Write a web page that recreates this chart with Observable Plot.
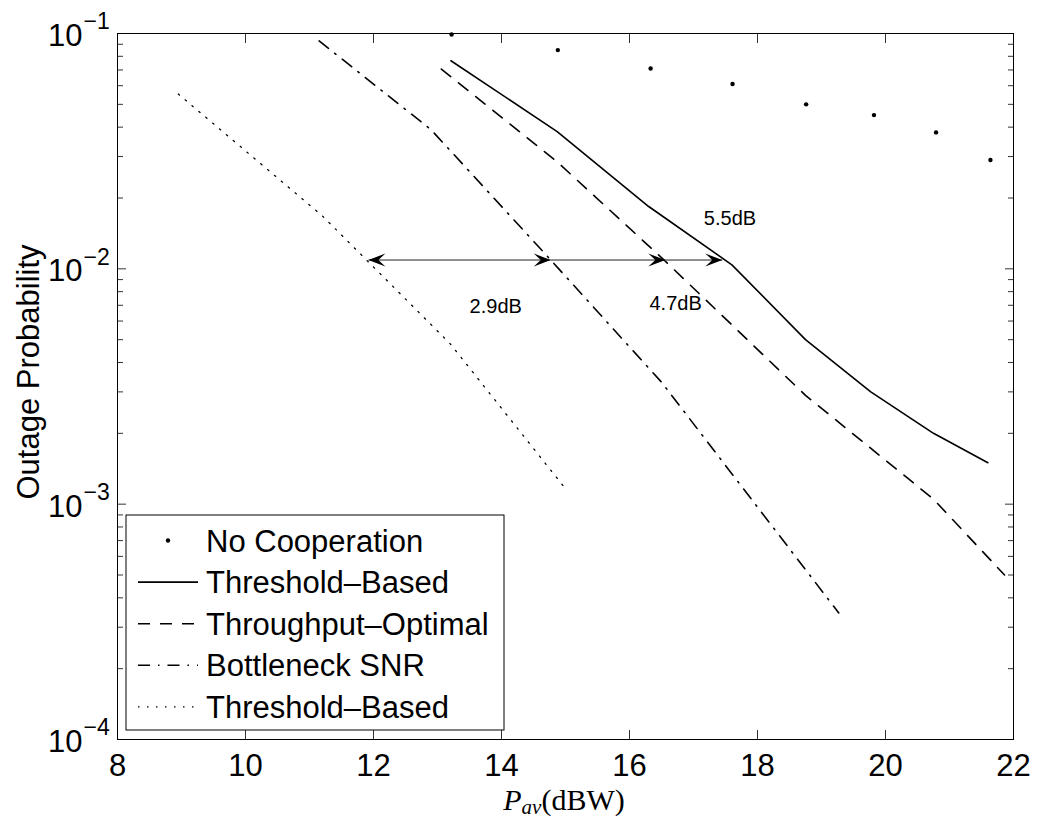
<!DOCTYPE html>
<html>
<head>
<meta charset="utf-8">
<script src="https://cdn.jsdelivr.net/npm/d3@7"></script>
<script src="https://cdn.jsdelivr.net/npm/@observablehq/plot@0.6"></script>
<style>
  html, body { margin: 0; padding: 0; background: #fff; }
  #chart svg { display: block; }
</style>
</head>
<body>
<div id="chart"></div>
<script>
// Outage probability vs. average power P_av (dBW)

// No cooperation (markers only)
const noCoopX = [13.22, 14.88, 16.33, 17.61, 18.76, 19.82, 20.79, 21.64];
const noCoopY = [0.099, 0.085, 0.071, 0.061, 0.050, 0.045, 0.038, 0.029];

// Threshold-based (solid)
const thresholdX = [13.21, 14.87, 16.30, 17.60, 18.75, 19.77, 20.75, 21.60];
const thresholdY = [0.0766, 0.0383, 0.0184, 0.0104, 0.0050, 0.0030, 0.0020, 0.0015];

// Throughput-optimal (dashed)
const optimalX = [13.06, 14.87, 16.54, 18.75, 20.75, 21.86];
const optimalY = [0.0706, 0.0285, 0.0109, 0.0029, 0.00105, 0.0005];

// Bottleneck SNR (dash-dot)
const bottleneckX = [11.15, 12.90, 14.77, 16.50, 19.27];
const bottleneckY = [0.093, 0.039, 0.0109, 0.0033, 0.000345];

// Threshold-based, second curve (dotted)
const threshold2X = [8.95, 11.20, 13.20, 14.96];
const threshold2Y = [0.0553, 0.0168, 0.0048, 0.0012];

// Gap arrows at a common outage level
const arrowLevel = 0.0109;
const arrowStops = [11.92, 14.77, 16.56, 17.45];

// Gap annotations
const gapText = ["2.9dB", "4.7dB", "5.5dB"];
const gapX = [13.91, 16.72, 17.57];
const gapY = [0.00689, 0.00713, 0.01637];

// Axis ticks
const xTicks = [8, 10, 12, 14, 16, 18, 20, 22];
const xInnerTicks = [10, 12, 14, 16, 18, 20];
const yDecades = [1e-4, 1e-3, 1e-2, 1e-1];
const yMinor = [];
for (const d of [1e-4, 1e-3, 1e-2]) for (let m = 2; m <= 9; m++) yMinor.push(m * d);

const legendLabels = ["No Cooperation", "Threshold\u2013Based", "Throughput\u2013Optimal", "Bottleneck SNR", "Threshold\u2013Based"];

const toRows = (xs, ys) => xs.map((x, i) => ({x, y: ys[i]}));

const SANS = "'Liberation Sans', Arial, Helvetica, sans-serif";
const SERIF = "'Liberation Serif', 'Times New Roman', serif";
const DASH = "12,10";
const DASHDOT = "12,8,1.5,8";
const DOT = "1.5,7.5";

// Filled arrowheads with a concave back; tip at the anchor point
const headRight = {draw(ctx) { ctx.moveTo(0, 0); ctx.lineTo(-17, -6.5); ctx.lineTo(-10, 0); ctx.lineTo(-17, 6.5); ctx.closePath(); }};
const headLeft = {draw(ctx) { ctx.moveTo(0, 0); ctx.lineTo(17, -6.5); ctx.lineTo(10, 0); ctx.lineTo(17, 6.5); ctx.closePath(); }};

const segments = [
  {x1: arrowStops[0], x2: arrowStops[1]},
  {x1: arrowStops[1], x2: arrowStops[2]},
  {x1: arrowStops[2], x2: arrowStops[3]}
].map(s => ({...s, y: arrowLevel}));
const rightHeads = arrowStops.slice(1).map(x => ({x, y: arrowLevel}));
const leftHeads = arrowStops.slice(0, 1).map(x => ({x, y: arrowLevel}));

const tickStyle = {stroke: "#333", strokeWidth: 1, tickFormat: () => "", label: null};

const chart = Plot.plot({
  width: 1042,
  height: 820,
  marginLeft: 117,
  marginRight: 29,
  marginTop: 33,
  marginBottom: 81,
  style: {fontFamily: SANS, background: "white", color: "black"},
  x: {domain: [8, 22], label: null},
  y: {type: "log", domain: [1e-4, 1e-1], label: null},
  marks: [
    Plot.axisX(xInnerTicks, {anchor: "bottom", tickSize: -9, ...tickStyle}),
    Plot.axisX(xInnerTicks, {anchor: "top", tickSize: -9, ...tickStyle}),
    Plot.axisY(yDecades, {anchor: "left", tickSize: -9, ...tickStyle}),
    Plot.axisY(yDecades, {anchor: "right", tickSize: -9, ...tickStyle}),
    Plot.axisY(yMinor, {anchor: "left", tickSize: -6, ...tickStyle}),
    Plot.axisY(yMinor, {anchor: "right", tickSize: -6, ...tickStyle}),

    Plot.line(toRows(threshold2X, threshold2Y), {x: "x", y: "y", stroke: "black", strokeWidth: 1.3, strokeDasharray: DOT}),
    Plot.line(toRows(bottleneckX, bottleneckY), {x: "x", y: "y", stroke: "black", strokeWidth: 1.6, strokeDasharray: DASHDOT}),
    Plot.line(toRows(optimalX, optimalY), {x: "x", y: "y", stroke: "black", strokeWidth: 1.6, strokeDasharray: DASH}),
    Plot.line(toRows(thresholdX, thresholdY), {x: "x", y: "y", stroke: "black", strokeWidth: 1.6}),
    Plot.dot(toRows(noCoopX, noCoopY), {x: "x", y: "y", r: 2.2, fill: "black", stroke: null}),

    Plot.link(segments, {x1: "x1", x2: "x2", y1: "y", y2: "y", stroke: "#222", strokeWidth: 1}),
    Plot.dot(rightHeads, {x: "x", y: "y", symbol: headRight, fill: "black", stroke: null, r: 4}),
    Plot.dot(leftHeads, {x: "x", y: "y", symbol: headLeft, fill: "black", stroke: null, r: 4}),

    Plot.text(gapText.map((t, i) => ({t, x: gapX[i], y: gapY[i]})), {x: "x", y: "y", text: "t", fontSize: 20, fill: "black"}),

    Plot.frame({stroke: "black", strokeWidth: 1}),

    // tick labels
    Plot.text(xTicks, {x: d => d, frameAnchor: "bottom", text: d => String(d), dy: 27, lineAnchor: "middle", fontSize: 31, fill: "black"}),
    Plot.text(yDecades, {y: d => d, frameAnchor: "left", text: () => "10", textAnchor: "end", dx: -35, dy: 2.5, lineAnchor: "middle", fontSize: 31, fill: "black"}),
    Plot.text(yDecades, {y: d => d, frameAnchor: "left", text: d => "\u2212" + Math.round(-Math.log10(d)), textAnchor: "start", dx: -34, dy: -11.4, lineAnchor: "middle", fontSize: 23, fill: "black"})
  ]
});

document.getElementById("chart").appendChild(chart);

const svg = d3.select(chart);

// y-axis title
svg.append("text")
  .attr("transform", "translate(39,372) rotate(-90)")
  .attr("text-anchor", "middle")
  .attr("font-family", SANS)
  .attr("font-size", 31)
  .attr("fill", "black")
  .text("Outage Probability");

// x-axis title: P_av (dBW)
const xt = svg.append("text")
  .attr("x", 564)
  .attr("y", 810)
  .attr("text-anchor", "middle")
  .attr("font-family", SERIF)
  .attr("font-size", 30)
  .attr("fill", "black");
xt.append("tspan").attr("font-style", "italic").text("P");
xt.append("tspan").attr("font-style", "italic").attr("font-size", 21).attr("dy", 4).text("av");
xt.append("tspan").attr("dy", -4).text("(dBW)");

// legend
const lg = svg.append("g").attr("font-family", SANS).attr("font-size", 31).attr("text-anchor", "start");
lg.append("rect").attr("x", 126).attr("y", 515).attr("width", 378).attr("height", 215)
  .attr("fill", "white").attr("stroke", "black").attr("stroke-width", 1);
const rowY = i => 540.5 + i * 41.6;
const sampleStyles = [null, "none", DASH, DASHDOT, DOT];
legendLabels.forEach((label, i) => {
  const y = rowY(i);
  if (i === 0) {
    lg.append("circle").attr("cx", 168).attr("cy", y).attr("r", 2.2).attr("fill", "black");
  } else {
    const ln = lg.append("line").attr("x1", 138).attr("x2", 198).attr("y1", y).attr("y2", y)
      .attr("stroke", "black").attr("stroke-width", i === 4 ? 1.3 : 1.6);
    if (sampleStyles[i] !== "none") ln.attr("stroke-dasharray", sampleStyles[i]);
  }
  lg.append("text").attr("x", 206).attr("y", y + 11).attr("text-anchor", "start").attr("fill", "black").text(label);
});
</script>
</body>
</html>
